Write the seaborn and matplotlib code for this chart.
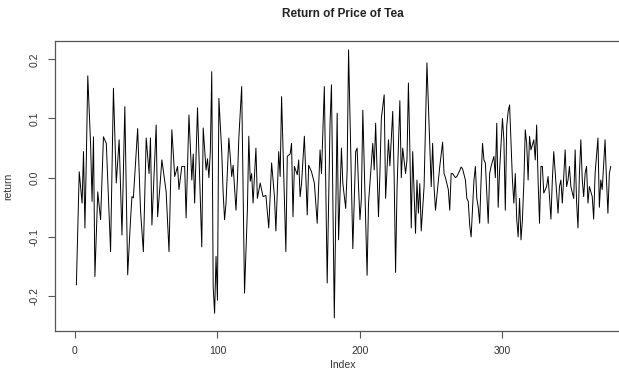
import matplotlib
matplotlib.use("Agg")
import matplotlib.pyplot as plt
import seaborn as sns
import pandas as pd

index = [1, 3, 5, 6, 7, 8, 9, 11, 12, 13, 14, 16, 18, 20, 22, 25, 27, 29, 31, 33,
         35, 37, 39, 40, 41, 44, 46, 48, 50, 52, 53, 54, 57, 58, 59, 61, 64, 66, 68, 70,
         72, 73, 75, 77, 78, 80, 82, 83, 84, 86, 89, 90, 92, 93, 94, 95, 96, 97, 98, 99,
         100, 101, 103, 104, 105, 106, 108, 110, 111, 113, 114, 115, 117, 119, 121, 122, 123, 124, 125, 127,
         128, 130, 132, 134, 136, 138, 140, 141, 143, 144, 145, 148, 149, 151, 152, 153, 154, 156, 157, 158,
         159, 161, 163, 164, 166, 168, 170, 172, 173, 175, 177, 179, 180, 182, 184, 185, 187, 188, 190, 191,
         192, 195, 197, 198, 199, 200, 201, 202, 205, 206, 207, 209, 210, 211, 213, 214, 215, 217, 218, 220,
         221, 223, 224, 225, 226, 228, 229, 230, 232, 233, 234, 235, 236, 237, 239, 240, 241, 242, 243, 245,
         247, 250, 251, 252, 253, 255, 256, 258, 259, 260, 262, 263, 264, 265, 267, 268, 270, 271, 272, 274,
         275, 276, 277, 278, 280, 281, 282, 283, 284, 285, 286, 287, 288, 290, 291, 292, 294, 295, 296, 297,
         298, 300, 301, 302, 303, 304, 305, 307, 308, 309, 310, 311, 312, 313, 314, 315, 316, 317, 318, 319,
         320, 322, 323, 324, 325, 326, 327, 328, 329, 331, 332, 333, 334, 335, 336, 338, 339, 340, 341, 342,
         344, 345, 346, 347, 348, 350, 351, 352, 353, 354, 355, 356, 357, 358, 359, 360, 361, 363, 364, 365,
         367, 368, 369, 370, 372, 373, 374, 375, 376]

ret = [-0.181, 0.010, -0.043, 0.044, -0.085, 0.033, 0.172, 0.055, -0.040, 0.069, -0.167, -0.024, -0.071, 0.069, 0.058, -0.125, 0.151, -0.009, 0.064, -0.097,
       0.120, -0.164, -0.071, -0.032, -0.034, 0.083, -0.055, -0.125, 0.067, 0.007, 0.067, -0.080, 0.089, -0.066, -0.035, 0.030, -0.024, -0.125, 0.081, 0.002,
       0.019, -0.020, 0.019, 0.019, -0.068, 0.106, -0.004, 0.040, -0.043, 0.118, -0.117, 0.084, 0.013, 0.032, 0.000, 0.044, 0.179, -0.184, -0.229, -0.133,
       -0.207, 0.134, 0.044, -0.026, -0.071, -0.043, 0.067, 0.002, 0.021, -0.055, -0.004, 0.067, 0.154, -0.195, -0.055, 0.070, -0.006, 0.007, -0.043, 0.050,
       -0.035, -0.009, -0.032, -0.030, -0.085, 0.025, -0.032, -0.090, 0.044, 0.002, 0.137, -0.125, 0.036, 0.040, 0.058, -0.066, 0.019, 0.005, 0.030, -0.032,
       -0.010, 0.070, -0.063, 0.021, 0.010, -0.009, -0.077, 0.047, 0.007, 0.154, -0.178, 0.092, 0.157, -0.237, 0.109, -0.105, 0.050, -0.010, -0.052, 0.013,
       0.216, -0.120, 0.044, 0.050, -0.015, -0.071, -0.035, 0.114, -0.165, -0.043, -0.010, 0.058, 0.013, 0.092, -0.066, 0.007, 0.100, 0.140, -0.035, 0.064,
       0.020, 0.112, 0.000, -0.160, -0.020, 0.130, 0.000, 0.050, 0.007, 0.030, 0.160, 0.050, -0.085, 0.044, -0.094, -0.004, -0.060, -0.010, -0.090, -0.015,
       0.194, -0.015, 0.058, -0.015, -0.055, -0.005, 0.019, 0.060, 0.007, 0.000, -0.020, -0.055, 0.007, 0.007, 0.000, 0.002, 0.012, 0.018, 0.015, -0.004,
       -0.035, -0.040, -0.080, -0.100, -0.004, 0.019, -0.035, -0.050, -0.077, -0.004, 0.058, 0.030, 0.025, -0.077, 0.007, 0.019, 0.036, 0.000, 0.092, -0.050,
       0.013, 0.100, 0.064, -0.055, 0.087, 0.112, 0.123, -0.004, -0.043, 0.007, -0.070, -0.100, -0.035, -0.105, -0.071, -0.009, 0.081, 0.058, -0.004, 0.070,
       0.047, 0.064, 0.030, 0.089, -0.004, -0.077, 0.019, 0.019, -0.026, -0.015, 0.002, -0.032, -0.070, -0.004, 0.044, -0.026, -0.060, -0.015, -0.004, -0.043,
       0.047, -0.015, -0.004, 0.019, -0.015, -0.035, 0.047, -0.040, -0.085, 0.007, 0.064, -0.004, -0.032, 0.007, 0.019, -0.043, -0.015, -0.032, -0.070, 0.007,
       0.067, -0.050, -0.004, -0.020, 0.064, -0.004, -0.060, 0.007, 0.019]

x_ticks = [0, 100, 200, 300]
y_ticks = [-0.2, -0.1, 0.0, 0.1, 0.2]
y_tick_labels = ["-0.2", "-0.1", "0.0", "0.1", "0.2"]

df = pd.DataFrame({"Index": index, "return": ret})

sns.set_style("white")
plt.rcParams["font.family"] = ["Liberation Sans", "DejaVu Sans"]
plt.rcParams["xtick.bottom"] = True
plt.rcParams["ytick.left"] = True

W, H = 619, 371
fig = plt.figure(figsize=(W / 100, H / 100), dpi=100)
ax = fig.add_axes([55 / W, (H - 331) / H, 576 / W, 290 / H])

sns.lineplot(data=df, x="Index", y="return", ax=ax, color="black",
             linewidth=0.7, estimator=None, sort=False)

ax.set_xlim(-14.0, 390.2)
ax.set_ylim(-0.259, 0.2309)
ax.set_xticks(x_ticks)
ax.set_xticklabels([str(t) for t in x_ticks])
ax.set_yticks(y_ticks)
ax.set_yticklabels(y_tick_labels, rotation=90, va="center")

for s in ax.spines.values():
    s.set_color("#555555")
    s.set_linewidth(0.9)

ax.tick_params(axis="both", direction="out", length=5, width=0.8,
               bottom=True, left=True,
               color="#555555", labelsize=7.5, labelcolor="#333333", pad=6)

ax.set_xlabel("Index", fontsize=7.5, color="#333333")
ax.xaxis.set_label_coords(0.5, -29 / 290)
ax.xaxis.label.set_va("top")
ax.set_ylabel("return", fontsize=7.5, color="#333333", labelpad=12)
ax.set_title("Return of Price of Tea", fontsize=8.5, fontweight="bold",
             color="#222222", pad=17)

fig.savefig("out.png", dpi=100)
